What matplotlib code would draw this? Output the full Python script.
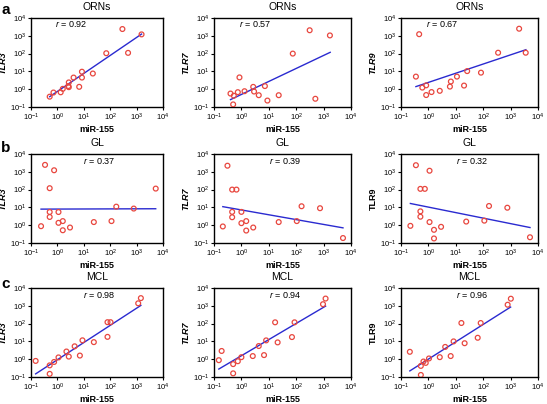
import numpy as np
import matplotlib
matplotlib.use('Agg')
import matplotlib.pyplot as plt
from matplotlib.ticker import LogLocator, NullLocator

plt.rcParams['font.family'] = ['Liberation Sans', 'DejaVu Sans']
plt.rcParams['mathtext.fontset'] = 'custom'
plt.rcParams['mathtext.rm'] = 'Liberation Sans'
plt.rcParams['mathtext.it'] = 'Liberation Sans:italic'
plt.rcParams['mathtext.bf'] = 'Liberation Sans:bold'
plt.rcParams['axes.unicode_minus'] = False

# ---------------- data (miR-155 vs TLR expression) ----------------
row_titles = ['ORNs', 'GL', 'MCL']
row_letters = ['a', 'b', 'c']
col_genes = ['TLR3', 'TLR7', 'TLR9']
x_label = 'miR-155'

r_values = [[0.92, 0.57, 0.67],
            [0.37, 0.39, 0.32],
            [0.98, 0.94, 0.96]]

# Row a: ORNs
orn_tlr3_x = [0.51, 0.71, 1.33, 1.6, 2.7, 2.7, 2.6, 4.1, 6.7, 8.5, 8.5, 22, 71, 290, 475, 1540]
orn_tlr3_y = [0.38, 0.65, 0.67, 1.05, 1.3, 2.4, 1.5, 4.5, 1.36, 9.6, 4.5, 7.6, 105, 2400, 110, 1200]
orn_tlr3_fit_x = [0.51, 1540]
orn_tlr3_fit_y = [0.38, 1250]

orn_tlr7_x = [0.40, 0.53, 0.50, 0.74, 0.85, 1.3, 2.7, 2.9, 4.3, 7.2, 8.9, 23, 75, 310, 500, 1700]
orn_tlr7_y = [0.57, 0.43, 0.14, 0.68, 4.6, 0.77, 1.35, 0.74, 0.46, 1.5, 0.23, 0.46, 100, 2050, 0.29, 1050]
orn_tlr7_fit_x = [0.40, 1740]
orn_tlr7_fit_y = [0.26, 118]

orn_tlr9_x = [0.35, 0.46, 0.60, 0.83, 0.83, 1.3, 2.6, 6.1, 6.6, 11, 20, 26, 83, 350, 2050, 3560]
orn_tlr9_y = [5.1, 1230, 1.23, 1.65, 0.47, 0.69, 0.81, 1.4, 2.7, 5.1, 1.6, 10.4, 8.5, 112, 2500, 112]
orn_tlr9_fit_x = [0.35, 3600]
orn_tlr9_fit_y = [1.4, 165]

# Row b: GL
gl_tlr3_x = [0.24, 0.34, 0.75, 0.51, 0.51, 0.51, 1.1, 1.1, 1.6, 1.6, 3.0, 24, 112, 170, 780, 5300]
gl_tlr3_y = [0.88, 2450, 1220, 120, 5.5, 2.9, 5.5, 1.36, 1.7, 0.52, 0.74, 1.5, 1.7, 11, 8.6, 114]
gl_tlr3_fit_x = [0.24, 5300]
gl_tlr3_fit_y = [8.0, 8.4]

gl_tlr7_x = [0.21, 0.31, 0.46, 0.66, 0.46, 0.46, 1.0, 1.0, 1.5, 1.5, 2.7, 23, 105, 157, 740, 5100]
gl_tlr7_y = [0.85, 2200, 100, 100, 5.6, 2.8, 5.6, 1.3, 1.7, 0.5, 0.74, 1.5, 1.7, 11.6, 9, 0.19]
gl_tlr7_fit_x = [0.21, 5100]
gl_tlr7_fit_y = [11, 0.71]

gl_tlr9_x = [0.22, 0.35, 1.1, 0.51, 0.74, 0.51, 0.51, 1.1, 1.6, 1.6, 2.9, 24, 110, 163, 760, 5100]
gl_tlr9_y = [0.92, 2350, 1150, 110, 110, 6, 3, 1.5, 0.55, 0.18, 0.81, 1.6, 1.8, 12, 9.6, 0.21]
gl_tlr9_fit_x = [0.22, 5100]
gl_tlr9_fit_y = [16.6, 0.74]

# Row c: MCL
mcl_tlr3_x = [0.15, 0.51, 0.51, 0.75, 1.1, 2.2, 2.7, 4.5, 7.1, 8.9, 24, 79, 79, 103, 1150, 1450]
mcl_tlr3_y = [0.8, 0.45, 0.15, 0.7, 1.26, 2.7, 1.4, 5.3, 1.6, 11.5, 9.1, 18, 120, 120, 1380, 2700]
mcl_tlr3_fit_x = [0.15, 1450]
mcl_tlr3_fit_y = [0.15, 1050]

mcl_tlr7_x = [0.15, 0.19, 0.5, 0.5, 0.74, 1.0, 2.6, 4.3, 6.7, 8, 17, 21, 70, 87, 950, 1180]
mcl_tlr7_y = [0.88, 2.9, 0.53, 0.16, 0.77, 1.3, 1.5, 5.5, 1.7, 11.4, 118, 8.8, 17.5, 118, 1230, 2550]
mcl_tlr7_fit_x = [0.15, 1180]
mcl_tlr7_fit_y = [0.28, 960]

mcl_tlr9_x = [0.21, 0.53, 0.53, 0.66, 0.8, 1.05, 2.6, 4.1, 6.5, 8.3, 16, 21, 63, 81, 780, 1020]
mcl_tlr9_y = [2.6, 0.42, 0.13, 0.74, 0.62, 1.1, 1.3, 4.9, 1.5, 10, 108, 7.9, 16, 108, 1150, 2500]
mcl_tlr9_fit_x = [0.21, 1000]
mcl_tlr9_fit_y = [0.22, 850]

panels = [
    [(orn_tlr3_x, orn_tlr3_y, orn_tlr3_fit_x, orn_tlr3_fit_y),
     (orn_tlr7_x, orn_tlr7_y, orn_tlr7_fit_x, orn_tlr7_fit_y),
     (orn_tlr9_x, orn_tlr9_y, orn_tlr9_fit_x, orn_tlr9_fit_y)],
    [(gl_tlr3_x, gl_tlr3_y, gl_tlr3_fit_x, gl_tlr3_fit_y),
     (gl_tlr7_x, gl_tlr7_y, gl_tlr7_fit_x, gl_tlr7_fit_y),
     (gl_tlr9_x, gl_tlr9_y, gl_tlr9_fit_x, gl_tlr9_fit_y)],
    [(mcl_tlr3_x, mcl_tlr3_y, mcl_tlr3_fit_x, mcl_tlr3_fit_y),
     (mcl_tlr7_x, mcl_tlr7_y, mcl_tlr7_fit_x, mcl_tlr7_fit_y),
     (mcl_tlr9_x, mcl_tlr9_y, mcl_tlr9_fit_x, mcl_tlr9_fit_y)],
]

# ---------------- layout ----------------
W, H = 547, 404
fig = plt.figure(figsize=(W / 100, H / 100), dpi=100)

col_left = [31, 214, 401]
col_width = [132, 137, 137]
row_top = [18, 154, 288]
ax_height = 89

marker_color = '#e8473f'
line_color = '#2a2ad0'

for i in range(3):
    for j in range(3):
        x, y, fx, fy = panels[i][j]
        ax = fig.add_axes([col_left[j] / W, 1 - (row_top[i] + ax_height) / H,
                           col_width[j] / W, ax_height / H])
        ax.set_xscale('log')
        ax.set_yscale('log')
        ax.set_xlim(0.1, 1e4)
        ax.set_ylim(0.1, 1e4)
        ax.plot(fx, fy, color=line_color, lw=1.0, zorder=2)
        ax.scatter(x, y, s=12, facecolors='none', edgecolors=marker_color,
                   linewidths=0.9, zorder=3)
        ax.xaxis.set_major_locator(LogLocator(base=10, numticks=10))
        ax.yaxis.set_major_locator(LogLocator(base=10, numticks=10))
        ax.xaxis.set_minor_locator(NullLocator())
        ax.yaxis.set_minor_locator(NullLocator())
        ax.tick_params(axis='both', which='major', direction='out', length=2.5,
                       width=0.8, labelsize=5.5, pad=1)
        for sp in ax.spines.values():
            sp.set_linewidth(1.0)
        italic = not (j == 2 and i > 0)
        ax.set_ylabel(col_genes[j], fontsize=6.5, fontweight='bold',
                      fontstyle='italic' if italic else 'normal', labelpad=1.5)
        ax.set_xlabel(x_label, fontsize=6.5, fontweight='bold', labelpad=1.5)
        ax.set_title(row_titles[i], fontsize=7.5, pad=6)
        rtxt = '$r$ = %.2f' % r_values[i][j]
        if i == 0:
            ax.text(0.18, 0.93, rtxt, transform=ax.transAxes, fontsize=6.5,
                    ha='left', va='center')
        else:
            ax.text(0.52, 0.92, rtxt, transform=ax.transAxes, fontsize=6.5,
                    ha='center', va='center')

letter_y = [10, 148, 284]
for i in range(3):
    fig.text(1 / W, 1 - letter_y[i] / H, row_letters[i], fontsize=11,
             fontweight='bold', ha='left', va='center')

fig.savefig('out.png', dpi=100)
